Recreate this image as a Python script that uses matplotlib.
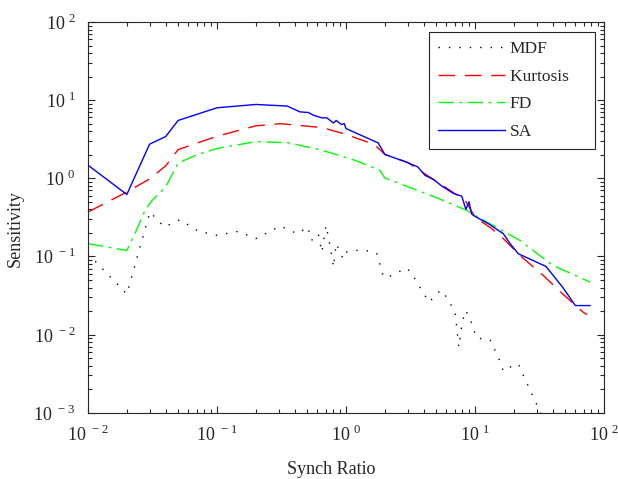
import numpy as np
import matplotlib
matplotlib.use('Agg')
import matplotlib.pyplot as plt
import matplotlib.ticker as ticker

plt.rcParams['font.family'] = 'Liberation Serif'
plt.rcParams['mathtext.fontset'] = 'custom'
plt.rcParams['mathtext.rm'] = 'Liberation Serif'

# data (log-log)
mdf_x = [0.01, 0.02, 0.0302, 0.039, 0.0517, 0.0716, 0.1, 0.146, 0.2, 0.31, 0.42, 0.505, 0.54,
         0.61, 0.65, 0.70, 0.74, 0.80, 0.84, 0.95, 1.0, 1.1, 1.4, 1.73, 1.95, 2.1, 2.95, 3.2,
         4.4, 5.42, 5.8, 7.0, 7.5, 7.95, 8.5, 9.3, 10.3, 13.1, 15.6, 16.6, 19.6, 21.7, 23.7, 32, 35]
mdf_y = [0.108, 0.033, 0.37, 0.238, 0.295, 0.21, 0.186, 0.209, 0.169, 0.245, 0.195, 0.238, 0.16,
         0.195, 0.113, 0.25, 0.16, 0.073, 0.146, 0.093, 0.113, 0.119, 0.12, 0.11, 0.055, 0.054, 0.071, 0.062,
         0.026, 0.037, 0.033, 0.0197, 0.0069, 0.0144, 0.0203, 0.0148, 0.009, 0.0086, 0.0046, 0.0034, 0.004,
         0.0042, 0.003, 0.00103, 0.0007]

kurt_x = [0.01, 0.02, 0.03, 0.04, 0.05, 0.1, 0.2, 0.31, 0.57, 0.67, 0.95, 1.66, 2.0, 3.0, 3.7,
          5.6, 8.4, 10, 13.5, 16.6, 22.3, 33.9, 48, 69, 74]
kurt_y = [0.37, 0.667, 0.98, 1.44, 2.33, 3.45, 4.69, 5.0, 4.55, 4.4, 3.74, 2.71, 2.02, 1.6, 1.27,
          0.81, 0.52, 0.32, 0.226, 0.169, 0.103, 0.057, 0.033, 0.0193, 0.018]

fd_x = [0.01, 0.02, 0.0231, 0.0277, 0.031, 0.04, 0.05, 0.07, 0.1, 0.2, 0.36, 0.65, 1.17, 1.83,
        2.0, 4.9, 8.6, 10, 22.3, 40, 78]
fd_y = [0.146, 0.119, 0.195, 0.39, 0.507, 0.774, 1.57, 2.0, 2.40, 2.95, 2.84, 2.29, 1.70, 1.27,
        1.01, 0.575, 0.39, 0.336, 0.16, 0.077, 0.047]

sa_x = [0.01, 0.02, 0.03, 0.04, 0.05, 0.1, 0.2, 0.35, 0.44, 0.51, 0.56, 0.65, 0.71, 0.80, 0.84,
        0.92, 0.97, 1.0, 1.78, 2.0, 2.9, 3.6, 4.1, 4.8, 5.5, 6.8, 7.9, 8.5, 9.0, 9.4, 10.0,
        12.7, 16.6, 18.7, 21.7, 35.5, 48, 60, 78]
sa_y = [1.47, 0.62, 2.73, 3.42, 5.5, 7.98, 8.8, 8.4, 7.07, 6.95, 6.4, 5.93, 5.93, 5.1, 5.5,
        4.88, 5.0, 4.33, 2.83, 2.02, 1.62, 1.40, 1.09, 0.96, 0.80, 0.64, 0.59, 0.40, 0.50, 0.35, 0.325,
        0.262, 0.195, 0.146, 0.108, 0.0745, 0.040, 0.0235, 0.0235]

fig = plt.figure(figsize=(6.18, 4.79), dpi=100)
ax = fig.add_axes([0.1424, 0.1384, 0.8349, 0.8157])

ax.plot(mdf_x, mdf_y, color='black', lw=1.0, linestyle=(0, (1.0, 6.5)), label='MDF')
# trailing spaces keep the wide right margin of the original legend box
ax.plot(kurt_x, kurt_y, color='red', lw=1.0, linestyle=(0, (12, 7)), label='Kurtosis    ')
ax.plot(fd_x, fd_y, color='#00ff00', lw=1.0, linestyle=(0, (11, 4, 2, 4)), label='FD')
ax.plot(sa_x, sa_y, color='blue', lw=1.0, label='SA')

ax.set_xscale('log')
ax.set_yscale('log')
ax.set_xlim(1e-2, 1e2)
ax.set_ylim(1e-3, 1e2)

xt = [1e-2, 1e-1, 1e0, 1e1, 1e2]
yt = [1e-3, 1e-2, 1e-1, 1e0, 1e1, 1e2]
ax.set_xticks(xt)
ax.set_xticklabels([r'$\mathregular{10}^{\ %d}$' % int(np.log10(v)) for v in xt])
ax.set_yticks(yt)
ax.set_yticklabels([r'$\mathregular{10}^{\ %d}$' % int(np.log10(v)) for v in yt])
ax.xaxis.set_minor_locator(ticker.LogLocator(base=10, subs=np.arange(2, 10), numticks=20))
ax.yaxis.set_minor_locator(ticker.LogLocator(base=10, subs=np.arange(2, 10), numticks=20))
ax.xaxis.set_minor_formatter(ticker.NullFormatter())
ax.yaxis.set_minor_formatter(ticker.NullFormatter())

ax.tick_params(which='both', direction='in', top=True, right=True, colors='#262626',
               labelcolor='#262626', labelsize=13, width=0.8)
ax.tick_params(which='major', length=5, pad=9)
ax.tick_params(which='minor', length=3)
for s in ax.spines.values():
    s.set_color('#262626')
    s.set_linewidth(0.8)

ax.set_xlabel('Synch Ratio', fontsize=13, color='#262626')
ax.set_ylabel('Sensitivity', fontsize=13, color='#262626')
ax.xaxis.set_label_coords(0.471, -0.124)
ax.yaxis.set_label_coords(-0.124, 0.471)

leg = ax.legend(loc='upper left', bbox_to_anchor=(429 / 618, 1 - 32 / 479),
                bbox_transform=fig.transFigure, fontsize=12.5, handlelength=3.85,
                labelspacing=0.67, borderpad=0.5, handletextpad=0.3, borderaxespad=0,
                fancybox=False, framealpha=1, edgecolor='#262626')
leg.get_frame().set_linewidth(0.8)
for t in leg.get_texts():
    t.set_color('#262626')

fig.savefig('out.png', dpi=100)
